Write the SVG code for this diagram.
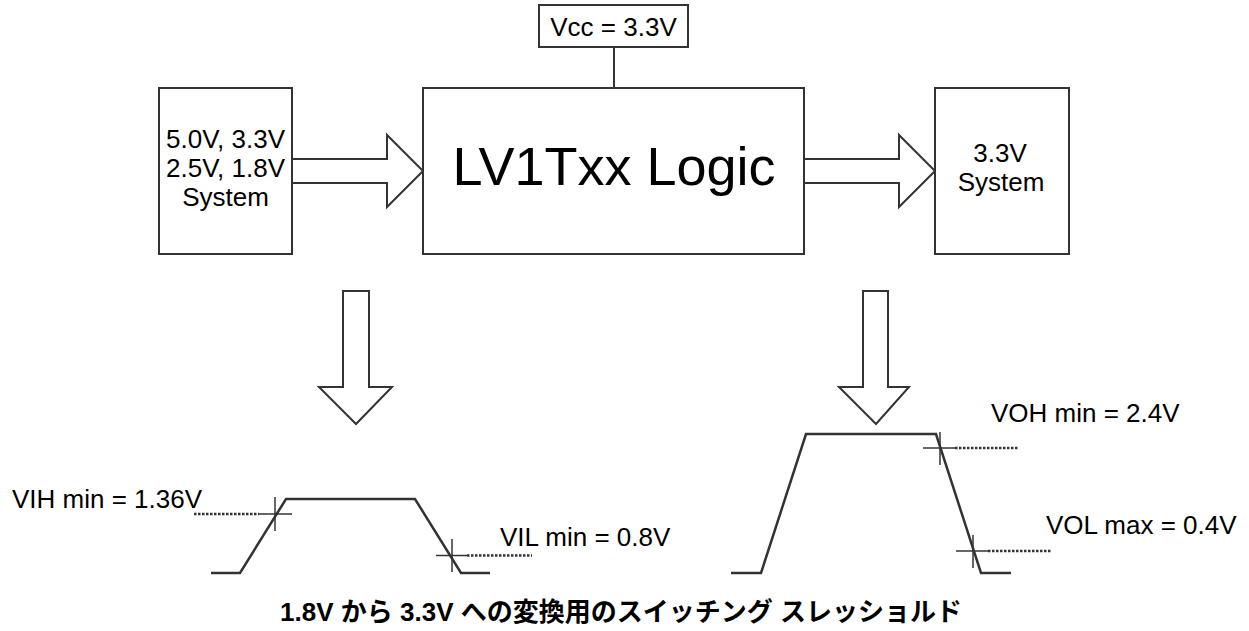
<svg xmlns="http://www.w3.org/2000/svg" width="1249" height="631" viewBox="0 0 1249 631">
<style>
.box{fill:#fff;stroke:#333;stroke-width:2}
.arr{fill:#fff;stroke:#333;stroke-width:2;stroke-linejoin:miter}
.wave{fill:none;stroke:#333;stroke-width:2.5}
.tick{fill:none;stroke:#333;stroke-width:1.5}
.dot{fill:none;stroke:#333;stroke-width:2.5;stroke-dasharray:2.5 1.5}
.t{font-family:"Liberation Sans",Arial,sans-serif;font-size:26px;fill:#000}
.c{text-anchor:middle}
.cap{font-family:"Liberation Sans","Noto Sans CJK JP",sans-serif;font-size:26px;font-weight:bold;fill:#000}
</style>
<rect width="1249" height="631" fill="#fff"/>
<g id="connectors">
<line x1="614" y1="47" x2="614" y2="88" stroke="#333" stroke-width="2"/>
<polygon class="arr" points="292,159 387,159 387,135 423,171 387,207 387,183 292,183"/>
<polygon class="arr" points="804,159 899,159 899,135 935,171 899,207 899,183 804,183"/>
<polygon class="arr" points="343,291 369,291 369,387 392,387 356,424 319,387 343,387"/>
<polygon class="arr" points="863,291 888,291 888,387 909,387 876,424 839,387 863,387"/>
</g>
<g id="vcc">
<rect class="box" x="539" y="5" width="149" height="42"/>
<text class="t c" x="613.5" y="36">Vcc = 3.3V</text>
</g>
<g id="input-system">
<rect class="box" x="159" y="88" width="133" height="166"/>
<text class="t c" x="225.5" y="148">5.0V, 3.3V</text>
<text class="t c" x="225.5" y="177">2.5V, 1.8V</text>
<text class="t c" x="225.5" y="206">System</text>
</g>
<g id="logic">
<rect class="box" x="423" y="88" width="381" height="166"/>
<text class="t c" x="614" y="185" style="font-size:54px">LV1Txx Logic</text>
</g>
<g id="output-system">
<rect class="box" x="935" y="88" width="134" height="166"/>
<text class="t c" x="1000" y="162">3.3V</text>
<text class="t c" x="1001" y="191">System</text>
</g>
<g id="input-waveform">
<polyline class="wave" points="211,573 240,573 286,499 415,499 461,573 490,573"/>
<line class="dot" x1="194" y1="514" x2="259" y2="514"/>
<line class="tick" x1="259" y1="514" x2="292" y2="514"/>
<line class="tick" x1="275" y1="497" x2="275" y2="531"/>
<line class="tick" x1="436" y1="555.5" x2="467" y2="555.5"/>
<line class="tick" x1="452" y1="539" x2="452" y2="572"/>
<line class="dot" x1="467" y1="555.5" x2="532" y2="555.5"/>
<text class="t" x="12" y="508">VIH min = 1.36V</text>
<text class="t" x="500" y="546">VIL min = 0.8V</text>
</g>
<g id="output-waveform">
<polyline class="wave" points="731,573 761,573 806,434 936,434 981,573 1011,573"/>
<line class="tick" x1="923" y1="448" x2="955" y2="448"/>
<line class="tick" x1="940" y1="432" x2="940" y2="465"/>
<line class="dot" x1="955" y1="448" x2="1019" y2="448"/>
<line class="tick" x1="956" y1="551" x2="988" y2="551"/>
<line class="tick" x1="973" y1="535" x2="973" y2="568"/>
<line class="dot" x1="988" y1="551" x2="1052" y2="551"/>
<text class="t" x="991" y="422">VOH min = 2.4V</text>
<text class="t" x="1046" y="534">VOL max = 0.4V</text>
</g>
<text class="cap" x="621" y="621" text-anchor="middle">1.8V から 3.3V への変換用のスイッチング スレッショルド</text>
</svg>
